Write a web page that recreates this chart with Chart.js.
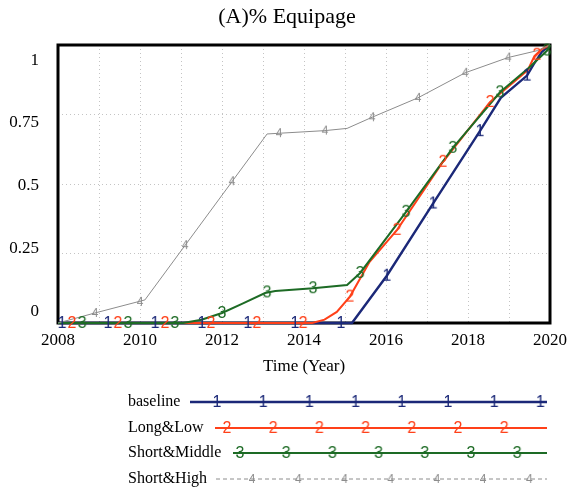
<!DOCTYPE html>
<html>
<head>
<meta charset="utf-8">
<script src="https://cdn.jsdelivr.net/npm/chart.js@4/dist/chart.umd.min.js"></script>
<style>
  html, body { margin: 0; padding: 0; background: #fff; }
</style>
</head>
<body>
<canvas id="myChart" width="576" height="495"></canvas>
<script>
// Series labels and look
const seriesNames = ["baseline", "Long&Low", "Short&Middle", "Short&High"];
const seriesDigits = ["1", "2", "3", "4"];
const seriesColors = ["#1b2878", "#ff4019", "#1d6b25", "#8c8c8c"];
const seriesWidths = [2.4, 2, 2, 1];

// Axis ticks
const yTickValues = [0, 0.25, 0.5, 0.75, 1];
const yTickLabels = ["0", "0.25", "0.5", "0.75", "1"];

// Lines (year, share)
const baselineYears = [2008, 2015.17, 2016.02, 2017.15, 2018.29, 2018.8, 2019.44, 2019.6, 2019.8, 2020];
const baselineValues = [0, 0, 0.17, 0.43, 0.69, 0.81, 0.89, 0.93, 0.975, 1.0];

const longLowYears = [2008, 2014.2, 2014.5, 2014.8, 2015.12, 2015.6, 2016.27, 2017.39, 2018.54, 2019.46, 2019.62, 2019.8, 2020];
const longLowValues = [0, 0, 0.012, 0.04, 0.095, 0.22, 0.335, 0.58, 0.795, 0.91, 0.96, 0.985, 1.0];

const shortMiddleYears = [2008, 2011.05, 2011.5, 2012.0, 2012.5, 2013.05, 2013.3, 2014.22, 2015.05, 2015.37, 2016.49, 2017.63, 2018.78, 2019.5, 2019.93, 2020];
const shortMiddleValues = [0, 0, 0.012, 0.036, 0.07, 0.108, 0.115, 0.125, 0.137, 0.18, 0.40, 0.63, 0.83, 0.92, 0.98, 1.0];

const shortHighYears = [2008, 2008.9, 2010.12, 2013.1, 2014.51, 2015.05, 2015.66, 2016.78, 2017.93, 2018.98, 2019.7, 2020];
const shortHighValues = [0, 0.036, 0.083, 0.68, 0.692, 0.70, 0.74, 0.81, 0.90, 0.955, 0.98, 1.0];

// Numbered markers sitting on each line
const baselineMarkYears = [2008.10, 2009.22, 2010.37, 2011.51, 2012.63, 2013.78, 2014.90, 2016.02, 2017.15, 2018.29, 2019.44];
const baselineMarkValues = [0, 0, 0, 0, 0, 0, 0, 0.17, 0.43, 0.69, 0.89];

const longLowMarkYears = [2008.34, 2009.46, 2010.61, 2011.73, 2012.85, 2013.98, 2015.12, 2016.27, 2017.39, 2018.54, 2019.68];
const longLowMarkValues = [0, 0, 0, 0, 0, 0, 0.095, 0.335, 0.58, 0.795, 0.965];

const shortMiddleMarkYears = [2008.59, 2009.71, 2010.85, 2012.00, 2013.10, 2014.22, 2015.37, 2016.49, 2017.63, 2018.78, 2019.93];
const shortMiddleMarkValues = [0, 0, 0, 0.036, 0.11, 0.125, 0.18, 0.40, 0.63, 0.83, 0.98];

const shortHighMarkYears = [2008.90, 2010.00, 2011.10, 2012.24, 2013.39, 2014.51, 2015.66, 2016.78, 2017.93, 2018.98];
const shortHighMarkValues = [0.036, 0.076, 0.28, 0.51, 0.683, 0.692, 0.74, 0.81, 0.90, 0.955];

const lineYears = [baselineYears, longLowYears, shortMiddleYears, shortHighYears];
const lineValues = [baselineValues, longLowValues, shortMiddleValues, shortHighValues];
const markYears = [baselineMarkYears, longLowMarkYears, shortMiddleMarkYears, shortHighMarkYears];
const markValues = [baselineMarkValues, longLowMarkValues, shortMiddleMarkValues, shortHighMarkValues];

const SERIF = '"Liberation Serif", "Times New Roman", serif';

function toPoints(xs, ys) {
  return xs.map((x, i) => ({ x: x, y: ys[i] }));
}

// small canvas with the series digit, used as point style
function digitMarker(digit, color) {
  const c = document.createElement("canvas");
  c.width = 12;
  c.height = 18;
  const g = c.getContext("2d");
  g.font = (digit === "4" ? "12px" : "16px") + ' "Liberation Sans", Arial, sans-serif';
  g.fillStyle = color;
  g.textAlign = "center";
  g.textBaseline = "middle";
  g.fillText(digit, 6, 9.5);
  return c;
}

const markers = seriesDigits.map((d, i) => digitMarker(d, seriesColors[i]));

let datasets = [];
seriesNames.forEach((name, i) => {
  datasets.push({
    label: name,
    data: toPoints(lineYears[i], lineValues[i]),
    borderColor: seriesColors[i],
    borderWidth: seriesWidths[i],
    pointRadius: 0,
    tension: 0,
    clip: 6,
    yAxisID: "y",
    order: 10 - i
  });
});
seriesNames.forEach((name, i) => {
  datasets.push({
    label: name + " marks",
    data: toPoints(markYears[i], markValues[i]),
    showLine: false,
    pointStyle: markers[i],
    pointRadius: 4,
    clip: 10,
    yAxisID: "y",
    order: 0
  });
});

const framePlugin = {
  id: "frame",
  beforeDatasetsDraw(chart) {
    const { ctx, chartArea: a } = chart;
    ctx.save();
    ctx.strokeStyle = "#000";
    ctx.lineWidth = 3;
    ctx.strokeRect(a.left, a.top, a.right - a.left, a.bottom - a.top);
    ctx.restore();
  }
};

const legendPlugin = {
  id: "sideLegend",
  afterDraw(chart) {
    const ctx = chart.ctx;
    const rowY = [402, 428, 453, 479];
    const lineStart = [190, 215, 233, 216];
    const firstMark = [217, 227, 240, 252];
    const markCount = [8, 7, 7, 7];
    const lineEnd = 547;
    const markGap = 46.2;
    ctx.save();
    ctx.font = "16px " + SERIF;
    ctx.textBaseline = "middle";
    ctx.textAlign = "left";
    seriesNames.forEach((name, i) => {
      ctx.fillStyle = "#000";
      ctx.fillText(name, 128, rowY[i]);
      ctx.beginPath();
      ctx.strokeStyle = seriesColors[i];
      ctx.lineWidth = seriesWidths[i];
      ctx.setLineDash(i === 3 ? [4, 3] : []);
      ctx.moveTo(lineStart[i], rowY[i]);
      ctx.lineTo(lineEnd, rowY[i]);
      ctx.stroke();
      ctx.setLineDash([]);
      for (let k = 0; k < markCount[i]; k++) {
        const img = markers[i];
        ctx.drawImage(img, firstMark[i] + k * markGap - img.width / 2, rowY[i] - img.height / 2);
      }
    });
    ctx.restore();
  }
};

const ctx = document.getElementById("myChart").getContext("2d");
new Chart(ctx, {
  type: "line",
  data: { datasets: datasets },
  plugins: [framePlugin, legendPlugin],
  options: {
    responsive: false,
    animation: false,
    events: [],
    layout: { padding: { left: 0, right: 2, top: 0, bottom: 112 } },
    plugins: {
      legend: { display: false },
      tooltip: { enabled: false },
      title: {
        display: true,
        text: "(A)% Equipage",
        color: "#000",
        font: { family: SERIF, size: 22, weight: "normal" },
        padding: { top: 4, bottom: 14.6 }
      }
    },
    scales: {
      x: {
        type: "linear",
        min: 2008,
        max: 2020,
        ticks: {
          stepSize: 1,
          autoSkip: false,
          maxRotation: 0,
          color: "#000",
          padding: 7,
          font: { family: SERIF, size: 17 },
          callback: v => (v % 2 === 0 ? String(v) : "")
        },
        grid: { color: "#c4c4c4", lineWidth: 1, drawTicks: false },
        border: { display: false, dash: [1, 3] },
        title: {
          display: true,
          text: "Time (Year)",
          color: "#000",
          font: { family: SERIF, size: 17 },
          padding: { top: 0, bottom: 6 }
        },
        afterFit: s => { s.height = 60; }
      },
      y: {
        position: "left",
        min: 0,
        max: 1,
        ticks: { display: false, stepSize: 0.25 },
        grid: { color: "#c4c4c4", lineWidth: 1, drawTicks: false },
        border: { display: false, dash: [1, 3] },
        afterFit: s => { s.width = 0; }
      },
      yl: {
        position: "left",
        min: -0.045,
        max: 1.06,
        afterBuildTicks: s => { s.ticks = yTickValues.map(v => ({ value: v })); },
        ticks: {
          color: "#000",
          padding: 11,
          font: { family: SERIF, size: 17 },
          callback: (v, i) => yTickLabels[i]
        },
        grid: { display: false },
        border: { display: false },
        afterFit: s => { s.width = 58; }
      },
      yr: {
        position: "right",
        min: 0,
        max: 1,
        ticks: { display: false },
        grid: { display: false },
        border: { display: false },
        afterFit: s => { s.width = 24; }
      }
    }
  }
});
</script>
</body>
</html>
